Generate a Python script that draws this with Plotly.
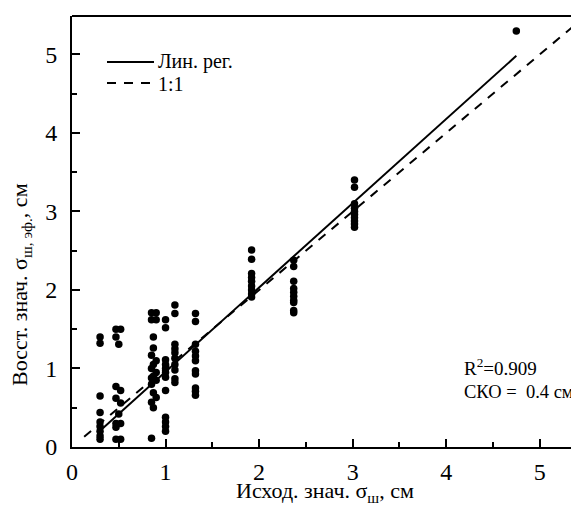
import plotly.graph_objects as go

# ---- data ----
x_030 = [0.30] * 9
y_030 = [1.40, 1.32, 0.65, 0.44, 0.32, 0.26, 0.20, 0.14, 0.10]

x_050 = [0.47, 0.52, 0.47, 0.50, 0.47, 0.52, 0.47, 0.52, 0.50, 0.47, 0.52, 0.47, 0.47, 0.52]
y_050 = [1.50, 1.50, 1.40, 1.31, 0.77, 0.72, 0.62, 0.56, 0.42, 0.30, 0.30, 0.25, 0.10, 0.10]

x_085 = [0.85, 0.90, 0.85, 0.90, 0.87, 0.87, 0.85, 0.90, 0.87, 0.85, 0.90, 0.87,
         0.85, 0.90, 0.85, 0.87, 0.90, 0.85, 0.87, 0.85]
y_085 = [1.71, 1.71, 1.62, 1.62, 1.40, 1.26, 1.17, 1.10, 1.05, 1.00, 0.95, 0.90,
         0.88, 0.85, 0.80, 0.69, 0.63, 0.57, 0.50, 0.11]

x_100 = [1.00] * 12
y_100 = [1.62, 1.52, 1.11, 1.05, 1.00, 0.95, 0.89, 0.72, 0.38, 0.32, 0.26, 0.20]

x_110 = [1.10] * 10
y_110 = [1.81, 1.70, 1.31, 1.25, 1.20, 1.13, 1.05, 0.98, 0.87, 0.82]

x_132 = [1.32] * 11
y_132 = [1.70, 1.60, 1.31, 1.22, 1.16, 1.10, 0.97, 0.93, 0.75, 0.71, 0.66]

x_193 = [1.92] * 9
y_193 = [2.51, 2.39, 2.21, 2.16, 2.11, 2.05, 2.00, 1.95, 1.91]

x_238 = [2.37] * 10
y_238 = [2.38, 2.30, 2.11, 2.02, 1.97, 1.92, 1.87, 1.84, 1.74, 1.71]

x_303 = [3.02] * 10
y_303 = [3.40, 3.31, 3.10, 3.04, 3.00, 2.96, 2.92, 2.88, 2.84, 2.80]

x_475 = [4.75]
y_475 = [5.30]

xs = x_030 + x_050 + x_085 + x_100 + x_110 + x_132 + x_193 + x_238 + x_303 + x_475
ys = y_030 + y_050 + y_085 + y_100 + y_110 + y_132 + y_193 + y_238 + y_303 + y_475

# regression line parameters
reg_slope = 1.073
reg_intercept = -0.114
reg_x = [0.30, 4.75]
one_x = [0.13, 5.42]

x_ticks = [0, 1, 2, 3, 4, 5]
y_ticks = [0, 1, 2, 3, 4, 5]

FONT = "Liberation Serif, Times New Roman, serif"

fig = go.Figure()
fig.add_trace(go.Scatter(x=xs, y=ys, mode="markers",
                         marker=dict(color="black", size=7.5), showlegend=False,
                         cliponaxis=False))
fig.add_trace(go.Scatter(x=reg_x, y=[reg_slope * v + reg_intercept for v in reg_x],
                         mode="lines", line=dict(color="black", width=2), showlegend=False))
fig.add_trace(go.Scatter(x=one_x, y=one_x, mode="lines",
                         line=dict(color="black", width=2, dash="9px,8px"), showlegend=False))

# page body has an 8px default margin -> figure is 8px smaller and offset
OFF = 8
W, H = 579 - OFF, 516 - OFF
ml, mr, mt, mb = 72 - OFF, 0, 16 - OFF, 516 - 447

fig.update_layout(
    width=W, height=H,
    margin=dict(l=ml, r=mr, t=mt, b=mb, pad=0, autoexpand=False),
    paper_bgcolor="white", plot_bgcolor="white",
    font=dict(family=FONT, color="black", size=20),
    showlegend=False,
)

fig.update_xaxes(range=[0, 5.42], tickvals=x_ticks, ticks="inside", ticklen=8, tickwidth=1.5,
                 showline=True, linecolor="black", linewidth=2, showgrid=False, zeroline=False,
                 tickfont=dict(size=24, family=FONT, color="black"), ticklabelstandoff=2,
                 minor=dict(dtick=0.5, ticks="inside", ticklen=5, tickwidth=1.5, tickcolor="black"),
                 tickcolor="black", automargin=False)
fig.update_yaxes(range=[0, 5.49], tickvals=y_ticks, ticks="inside", ticklen=8, tickwidth=1.5,
                 showline=True, linecolor="black", linewidth=2, showgrid=False, zeroline=False,
                 tickfont=dict(size=24, family=FONT, color="black"), ticklabelstandoff=8,
                 minor=dict(dtick=0.5, ticks="inside", ticklen=5, tickwidth=1.5, tickcolor="black"),
                 tickcolor="black", automargin=False)

# top border
fig.add_shape(type="line", xref="paper", yref="paper", x0=0, x1=1, y0=1, y1=1,
              line=dict(color="black", width=2))

# convert screen pixel positions to paper coordinates
def px_x(p):
    return (p - OFF - ml) / (W - ml - mr)

def px_y(p):
    return (H - mb - (p - OFF)) / (H - mt - mb)

# axis titles
fig.add_annotation(xref="paper", yref="paper", x=px_x(325), y=px_y(492),
                   text="Исход. знач. σ<sub>ш</sub>, см", showarrow=False,
                   xanchor="center", yanchor="middle", font=dict(size=22, family=FONT))
fig.add_annotation(xref="paper", yref="paper", x=px_x(21), y=px_y(285),
                   text="Восст. знач. σ<sub>ш, эф.</sub>, см", showarrow=False, textangle=-90,
                   xanchor="center", yanchor="middle", font=dict(size=22, family=FONT))

# legend (manual)
fig.add_shape(type="line", xref="paper", yref="paper", x0=px_x(107), x1=px_x(154),
              y0=px_y(62), y1=px_y(62), line=dict(color="black", width=2))
fig.add_shape(type="line", xref="paper", yref="paper", x0=px_x(107), x1=px_x(154),
              y0=px_y(83), y1=px_y(83), line=dict(color="black", width=2, dash="9px,8px"))
fig.add_annotation(xref="paper", yref="paper", x=px_x(156), y=px_y(61), text="Лин. рег.",
                   showarrow=False, xanchor="left", yanchor="middle", font=dict(size=20, family=FONT))
fig.add_annotation(xref="paper", yref="paper", x=px_x(156), y=px_y(84), text="1:1",
                   showarrow=False, xanchor="left", yanchor="middle", font=dict(size=20, family=FONT))

fig.add_annotation(xref="paper", yref="paper", x=px_x(462), y=px_y(367), text="R<sup>2</sup>=0.909",
                   showarrow=False, xanchor="left", yanchor="middle", font=dict(size=19, family=FONT))
fig.add_annotation(xref="paper", yref="paper", x=px_x(462), y=px_y(392),
                   text="СКО =\u00a0 0.4 см",
                   showarrow=False, xanchor="left", yanchor="middle", font=dict(size=18.5, family=FONT))

fig.write_html("out.html")
